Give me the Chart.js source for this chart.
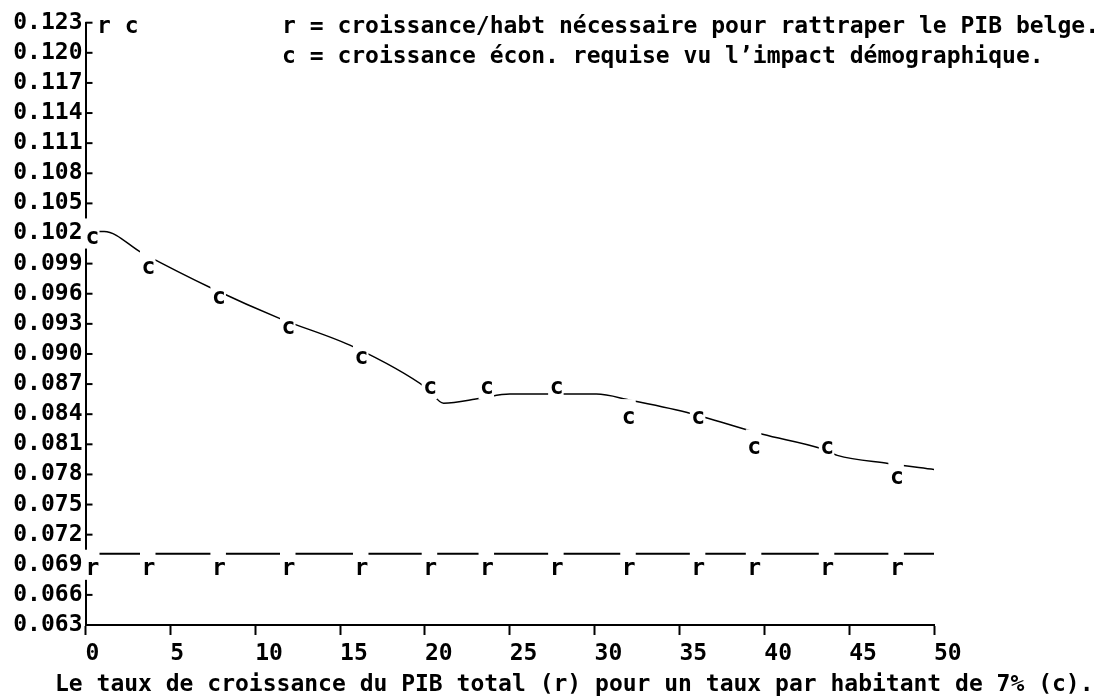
<!DOCTYPE html>
<html>
<head>
<meta charset="utf-8">
<script src="https://cdn.jsdelivr.net/npm/chart.js@4.4.0/dist/chart.umd.min.js"></script>
<style>
    html, body { margin: 0; padding: 0; background: #fff; }
</style>
</head>
<body>
<canvas id="chart" width="1115" height="696"></canvas>
<script>
// x positions of the letter marks (left edge of each letter)
const markX = [0, 3.3, 7.45, 11.55, 15.85, 19.9, 23.25, 27.35, 31.6, 35.7, 39.0, 43.3, 47.4];
// c = croissance écon. requise (rows of the text grid)
const cMarks = [0.102, 0.099, 0.096, 0.093, 0.090, 0.087, 0.087, 0.087, 0.084, 0.084, 0.081, 0.081, 0.078];
// r = croissance/habt nécessaire
const rMarks = [0.069, 0.069, 0.069, 0.069, 0.069, 0.069, 0.069, 0.069, 0.069, 0.069, 0.069, 0.069, 0.069];

// fitted curves
const cCurveX = [0, 1.1, 3.3, 7.5, 11.5, 15.8, 20.1, 21.1, 23.3, 25, 27.4, 30.1, 32.1, 35.4, 39.9, 43.3, 44.3, 47.3, 50];
const cCurve = [0.1022, 0.1022, 0.1001, 0.0965, 0.0935, 0.0907, 0.0866, 0.0851, 0.0856, 0.0860, 0.0860, 0.0860, 0.0854, 0.0842, 0.0820, 0.0806, 0.0799, 0.0791, 0.0785];
const rCurveX = [0, 50];
const rCurve = [0.0701, 0.0701];

const legendLines = [
    "r = croissance/habt nécessaire pour rattraper le PIB belge.",
    "c = croissance écon. requise vu l’impact démographique."
];
const xTitle = "Le taux de croissance du PIB total (r) pour un taux par habitant de 7% (c).";

const FAMILY = "DejaVu Sans Mono";
const FONT = 'bold 23px "' + FAMILY + '"';

function points(xs, ys) {
    return xs.map((x, i) => ({ x: x, y: ys[i] }));
}

// inward ticks on the y axis, white text cells with letters, and texts
const textPlot = {
    id: "textPlot",
    beforeDatasetsDraw(chart) {
        const ctx = chart.ctx;
        const y = chart.scales.y;
        ctx.save();
        ctx.strokeStyle = "#000";
        ctx.lineWidth = 2;
        y.ticks.forEach((t) => {
            const py = y.getPixelForValue(t.value);
            ctx.beginPath();
            ctx.moveTo(y.right, py);
            ctx.lineTo(y.right + 7, py);
            ctx.stroke();
        });
        ctx.restore();
    },
    afterDatasetsDraw(chart) {
        const ctx = chart.ctx;
        const y = chart.scales.y;
        const rowH = Math.abs(y.getPixelForValue(0.063) - y.getPixelForValue(0.066));
        ctx.save();
        ctx.font = FONT;
        ctx.textAlign = "left";
        ctx.textBaseline = "alphabetic";
        chart.data.datasets.forEach((ds, i) => {
            if (!ds.letter) return;
            chart.getDatasetMeta(i).data.forEach((pt) => {
                ctx.fillStyle = "#fff";
                ctx.fillRect(pt.x - 1.5, pt.y - rowH / 2, 15.5, rowH);
                ctx.fillStyle = "#000";
                ctx.fillText(ds.letter, pt.x, pt.y + 10);
            });
        });
        ctx.restore();
    },
    afterDraw(chart) {
        const ctx = chart.ctx;
        const y = chart.scales.y;
        ctx.save();
        ctx.font = FONT;
        ctx.fillStyle = "#000";
        ctx.textAlign = "left";
        ctx.textBaseline = "alphabetic";
        ctx.fillText("r c", 97, y.getPixelForValue(0.123) + 10);
        ctx.fillText(legendLines[0], 282, y.getPixelForValue(0.123) + 10);
        ctx.fillText(legendLines[1], 282, y.getPixelForValue(0.120) + 10);
        ctx.fillText(xTitle, 55, 691);
        ctx.restore();
    }
};

new Chart(document.getElementById("chart").getContext("2d"), {
    type: "scatter",
    data: {
        datasets: [
            {
                label: "r fit",
                data: points(rCurveX, rCurve),
                showLine: true,
                borderColor: "#000",
                borderWidth: 2,
                pointRadius: 0
            },
            {
                label: "c fit",
                data: points(cCurveX, cCurve),
                showLine: true,
                borderColor: "#000",
                borderWidth: 1.5,
                pointRadius: 0,
                cubicInterpolationMode: "monotone"
            },
            {
                label: "r",
                data: points(markX, rMarks),
                pointRadius: 0,
                letter: "r"
            },
            {
                label: "c",
                data: points(markX, cMarks),
                pointRadius: 0,
                letter: "c"
            }
        ]
    },
    options: {
        responsive: false,
        animation: false,
        devicePixelRatio: 1,
        layout: {
            padding: { left: 0, right: 181, top: 22.7, bottom: 31 }
        },
        plugins: {
            legend: { display: false },
            tooltip: { enabled: false }
        },
        scales: {
            x: {
                type: "linear",
                min: 0,
                max: 50,
                ticks: {
                    stepSize: 5,
                    autoSkip: false,
                    maxRotation: 0,
                    align: "start",
                    padding: 5,
                    color: "#000",
                    font: { family: FAMILY, size: 23, weight: "bold" }
                },
                grid: {
                    drawOnChartArea: false,
                    drawTicks: true,
                    tickLength: 10,
                    tickWidth: 2,
                    tickColor: "#000"
                },
                border: { color: "#000", width: 2 },
                afterFit: (s) => { s.height = 40; }
            },
            y: {
                min: 0.063,
                max: 0.123,
                ticks: {
                    stepSize: 0.003,
                    autoSkip: false,
                    padding: 3,
                    color: "#000",
                    font: { family: FAMILY, size: 23, weight: "bold" },
                    callback: (v) => v.toFixed(3)
                },
                grid: { drawOnChartArea: false, drawTicks: false },
                border: { color: "#000", width: 2 },
                afterFit: (s) => { s.width = 85.5; }
            }
        }
    },
    plugins: [textPlot]
});
</script>
</body>
</html>
